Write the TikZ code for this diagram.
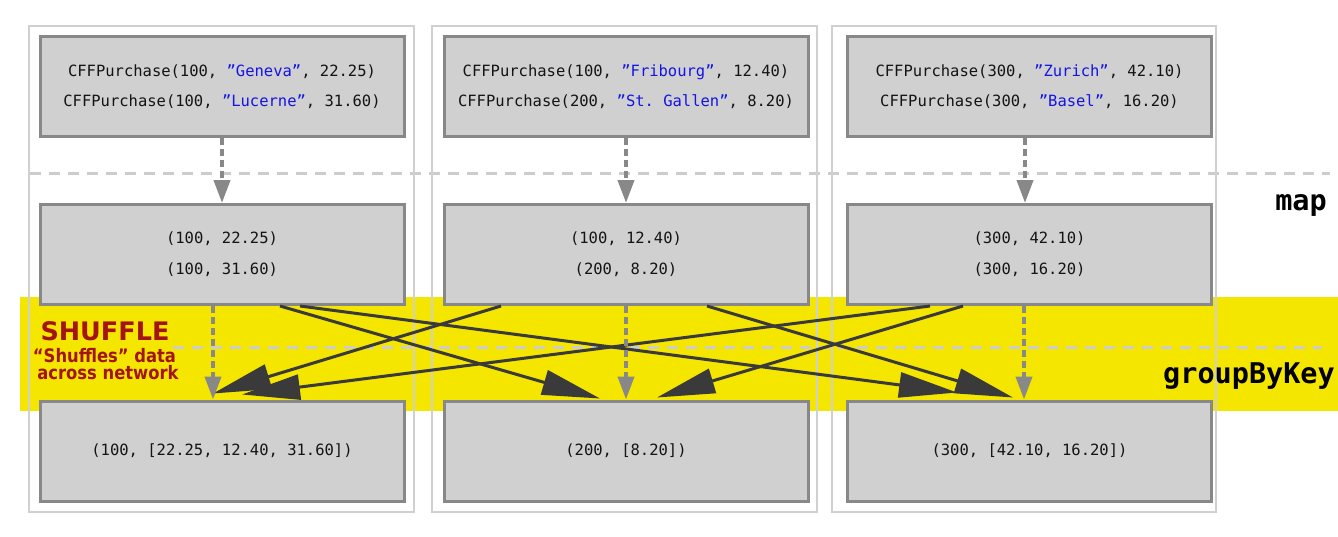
\documentclass[tikz,border=0pt]{standalone}
\usepackage{fontspec}
\setmonofont{DejaVu Sans Mono}
\newfontfamily\shufflefont{DejaVu Sans}
\newfontfamily\shufflecond[FakeStretch=0.88]{DejaVu Sans}
\usetikzlibrary{arrows.meta}
\definecolor{boxfill}{HTML}{D0D0D0}
\definecolor{boxdraw}{HTML}{888888}
\definecolor{colline}{HTML}{D0D0D0}
\definecolor{dashcol}{HTML}{CCCCCC}
\definecolor{band}{HTML}{F5E600}
\definecolor{arrowdark}{HTML}{3A3A3A}
\definecolor{shufred}{HTML}{A31515}
\definecolor{strblue}{HTML}{1414E6}
\newcommand{\qs}[1]{\textcolor{strblue}{#1}}
\tikzset{
  colbox/.style={draw=colline, line width=2.8pt, minimum width=385pt, minimum height=486pt, inner sep=0pt},
  databox/.style={draw=boxdraw, fill=boxfill, line width=3pt, minimum width=364pt, minimum height=100pt, align=center, inner sep=0pt, text=black!92, font=\ttfamily\fontsize{15.5}{30}\selectfont},
  midbox/.style={databox, font=\ttfamily\fontsize{15.5}{31}\selectfont},
  layerline/.style={draw=dashcol, line width=3pt, dash pattern=on 11pt off 8pt},
  maparrow/.style={draw=boxdraw, line width=4pt, dash pattern=on 7pt off 4pt, -{Triangle[length=23pt,width=16pt]}},
  shufarrow/.style={draw=arrowdark, line width=3pt, -{Triangle[length=58pt,width=25pt]}},
  layerlabel/.style={font=\ttfamily\bfseries\fontsize{28.5}{30}\selectfont, inner sep=0pt, anchor=base east},
  shuftext/.style={text=shufred, inner sep=0pt, anchor=base},
}
\begin{document}
\begin{tikzpicture}[x=1pt,y=-1pt]
\useasboundingbox (0,0) rectangle (1338,536);
% yellow shuffle band
\fill[band] (20,297) rectangle (1338,411);
% layer separators
\draw[layerline] (30,173) -- (1330,173);
\draw[layerline] (173,347) -- (1322,347);
% columns
\node[colbox] (c1) at (221.5,269) {};
\node[colbox] (c2) at (624.5,269) {};
\node[colbox, minimum width=384pt] (c3) at (1024,269) {};
% top boxes
\node[databox] (t1) at (222,86.5) {CFFPurchase(100, \qs{”Geneva”}, 22.25)\\CFFPurchase(100, \qs{”Lucerne”}, 31.60)};
\node[databox] (t2) at (626,86.5) {CFFPurchase(100, \qs{”Fribourg”}, 12.40)\\CFFPurchase(200, \qs{”St. Gallen”}, 8.20)};
\node[databox] (t3) at (1029.5,86.5) {CFFPurchase(300, \qs{”Zurich”}, 42.10)\\CFFPurchase(300, \qs{”Basel”}, 16.20)};
% middle boxes
\node[midbox] (m1) at (222,254.5) {(100, 22.25)\\(100, 31.60)};
\node[midbox] (m2) at (626,254.5) {(100, 12.40)\\(200, 8.20)};
\node[midbox] (m3) at (1029.5,254.5) {(300, 42.10)\\(300, 16.20)};
% bottom boxes
\node[databox] (b1) at (222,451) {(100, [22.25, 12.40, 31.60])};
\node[databox] (b2) at (626,451) {(200, [8.20])};
\node[databox] (b3) at (1029.5,451) {(300, [42.10, 16.20])};
% shuffle arrows
\draw[shufarrow] ([xshift=58pt]m1.south) -- ([xshift=-26pt,yshift=1pt]b2.north);
\draw[shufarrow] ([xshift=78pt]m1.south) -- ([xshift=-72.5pt,yshift=7pt]b3.north);
\draw[shufarrow] ([xshift=-125pt]m2.south) -- ([xshift=-9pt,yshift=6pt]b1.north);
\draw[shufarrow] ([xshift=81pt]m2.south) -- ([xshift=-16.5pt,yshift=2pt]b3.north);
\draw[shufarrow] ([xshift=-99.5pt]m3.south) -- ([xshift=20pt,yshift=5pt]b1.north);
\draw[shufarrow] ([xshift=-66.5pt]m3.south) -- ([xshift=31pt,yshift=2pt]b2.north);
% map arrows
\draw[maparrow] (t1.south) -- (m1.north);
\draw[maparrow] (t2.south) -- (m2.north);
\draw[maparrow] ([xshift=-4.5pt]t3.south) -- ([xshift=-4.5pt]m3.north);
\draw[maparrow] ([xshift=-9pt]m1.south) -- ([xshift=-9pt]b1.north);
\draw[maparrow] (m2.south) -- (b2.north);
\draw[maparrow] ([xshift=-5.5pt]m3.south) -- ([xshift=-5.5pt]b3.north);
% labels
\node[layerlabel] (maplbl) at (1327,210) {map};
\node[layerlabel] (gbklbl) at (1335,383) {groupByKey};
\node[shuftext, font=\shufflefont\bfseries\fontsize{25.5}{28}\selectfont] (shuf) at (105,340.5) {SHUFFLE};
\node[shuftext, font=\shufflecond\bfseries\fontsize{18.6}{18}\selectfont] (shufa) at (104.5,362.5) {“Shuffles” data};
\node[shuftext, font=\shufflecond\bfseries\fontsize{18.6}{18}\selectfont] (shufb) at (108,379) {across network};
\end{tikzpicture}
\end{document}
